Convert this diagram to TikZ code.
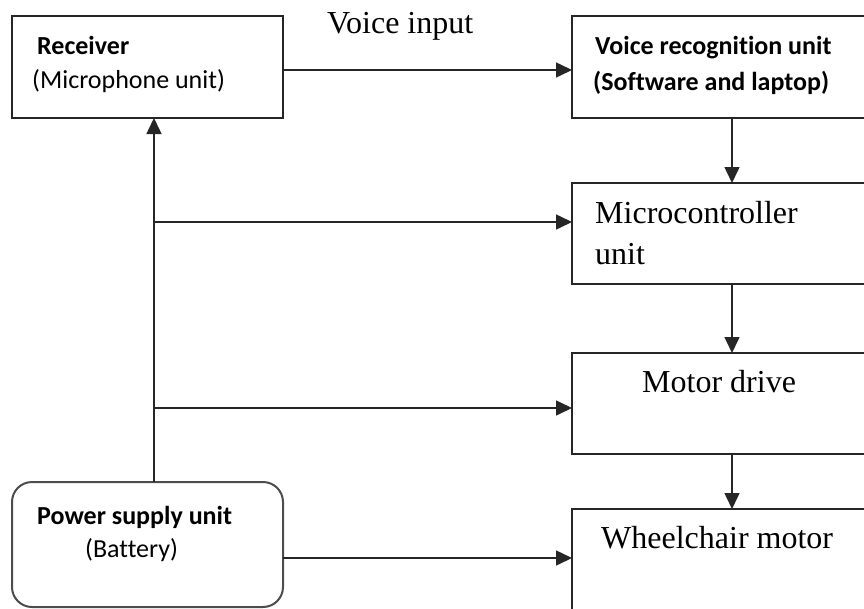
\documentclass[tikz,border=0pt]{standalone}
\usepackage{fontspec}
\setmainfont{Liberation Serif}
\newfontfamily\calfont[Ligatures=NoCommon]{Carlito}
\usetikzlibrary{arrows.meta}
\begin{document}
\begin{tikzpicture}[x=1pt,y=-1pt,
  blk/.style={draw=black!85, line width=1.5pt, outer sep=0pt, inner sep=0pt, anchor=north west},
  rblk/.style={blk, rounded corners=20pt, draw=black!70, line width=2pt},
  arr/.style={line width=1.5pt, draw=black!85, -{Triangle[length=16pt,width=15pt]}},
  sanslbl/.style={anchor=base west, inner sep=0pt, font=\calfont\fontsize{26}{30}\selectfont},
  sansbold/.style={sanslbl, font=\calfont\bfseries\fontsize{26}{30}\selectfont},
  seriflbl/.style={anchor=base west, inner sep=0pt, font=\fontsize{32}{38}\selectfont}]
\useasboundingbox (0,0) rectangle (864,608);
\clip (0,0) rectangle (864,608);

% blocks
\node[blk, minimum width=271, minimum height=102] (rec) at (12,16) {};
\node[blk, minimum width=320, minimum height=102] (vr)  at (572,16) {};
\node[blk, minimum width=320, minimum height=101] (mc)  at (572,183) {};
\node[blk, minimum width=320, minimum height=101] (md)  at (572,353) {};
\node[blk, minimum width=320, minimum height=140] (wm)  at (572,509) {};
\node[rblk, minimum width=271, minimum height=125] (psu) at (12,482) {};

% block texts
\node[sansbold] (recA) at (37,54) {Receiver};
\node[sanslbl]  (recB) at (32,88) {(Microphone unit)};
\node[sansbold] (vrA) at (595,54) {Voice recognition unit};
\node[sansbold] (vrB) at (593,90) {(Software and laptop)};
\node[seriflbl] (mcA) at (595,223) {Microcontroller};
\node[seriflbl] (mcB) at (595,264) {unit};
\node[seriflbl] (mdA) at (642,392) {Motor drive};
\node[seriflbl] (wmA) at (601,548) {Wheelchair motor};
\node[sansbold] (psuA) at (37,524) {Power supply unit};
\node[sanslbl]  (psuB) at (85,557) {(Battery)};
\node[seriflbl] (vin) at (327,33) {Voice input};

% connector levels
\coordinate (spine) at (154,0);
\coordinate (jmc) at (154,222);
\coordinate (jmd) at (154,408);
\coordinate (vlev) at (0,70);
\coordinate (plev) at (0,558);

% connectors
\draw[arr] (rec.east |- vlev) -- (vr.west |- vlev);
\draw[arr] (vr.south) -- (mc.north);
\draw[arr] (mc.south) -- (md.north);
\draw[arr] (md.south) -- (wm.north);
\draw[arr] (psu.north -| spine) -- (rec.south -| spine);
\draw[arr] (jmc) -- (mc.west |- jmc);
\draw[arr] (jmd) -- (md.west |- jmd);
\draw[arr] (psu.east |- plev) -- (wm.west |- plev);
\end{tikzpicture}
\end{document}
